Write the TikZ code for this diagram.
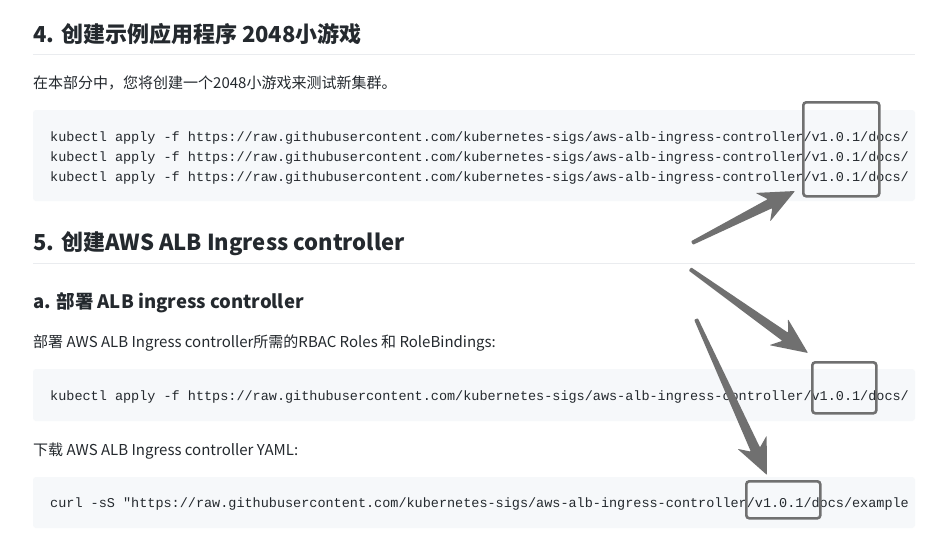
\documentclass[tikz,border=0pt]{standalone}
\usepackage{fontspec}
\setmainfont{Noto Sans CJK SC}
\setmonofont{Liberation Mono}
\usetikzlibrary{calc}
\definecolor{txt}{HTML}{24292E}
\definecolor{codebg}{HTML}{F6F8FA}
\definecolor{rulec}{HTML}{EAECEF}
\definecolor{ag}{HTML}{707070}
\tikzset{x=1pt,y=-1pt,
 h1/.style={anchor=base west,inner sep=0,text=txt,font=\fontsize{22}{22}\selectfont\bfseries},
 h3/.style={anchor=base west,inner sep=0,text=txt,font=\fontsize{18.5}{18.5}\selectfont\bfseries},
 para/.style={anchor=base west,inner sep=0,text=txt,font=\fontsize{15}{15}\selectfont},
 code/.style={anchor=base west,inner sep=0,text=txt,font=\fontsize{13.5}{13.5}\ttfamily},
 hibox/.style={draw=ag,line width=2.6pt,rounded corners=3pt}}
\newcommand\fatarrow[2]{%
 \coordinate (H) at ($(#2)!36pt!(#1)$);
 \coordinate (N) at ($(#2)!28pt!(#1)$);
 \fill[ag,rounded corners=0.8pt] ($(#1)!2pt!90:(#2)$) -- ($(N)!5pt!-90:(#1)$) -- ($(H)!16pt!-90:(#1)$) -- (#2) -- ($(H)!16pt!90:(#1)$) -- ($(N)!5pt!90:(#1)$) -- ($(#1)!2pt!-90:(#2)$) -- cycle;}
\begin{document}
\begin{tikzpicture}
\fill[white] (0,0) rectangle (940,539);
\useasboundingbox (0,0) rectangle (940,539);
\node[h1] (t4) at (33,42) {4. 创建示例应用程序 2048小游戏};
\draw[rulec,line width=1pt] (33,54) -- (915,54);
\node[para] (p1) at (33,88) {在本部分中，您将创建一个2048小游戏来测试新集群。};
\fill[codebg,rounded corners=3pt] (33,110) rectangle (915,201);
\foreach \y/\n in {141/c1,161/c2,181/c3}
 \node[code] (\n) at (50,\y) {kubectl apply -f https://raw.githubusercontent.com/kubernetes-sigs/aws-alb-ingress-controller/v1.0.1/docs/};
\node[h1] (t5) at (33,250) {5. 创建AWS ALB Ingress controller};
\draw[rulec,line width=1pt] (33,263) -- (915,263);
\node[h3] (ta) at (33,308) {a. 部署 ALB ingress controller};
\node[para] (p2) at (33,347) {部署 AWS ALB Ingress controller所需的RBAC Roles 和 RoleBindings:};
\fill[codebg,rounded corners=3pt] (33,369) rectangle (915,421);
\node[para] (p3) at (33,455) {下载 AWS ALB Ingress controller YAML:};
\fill[codebg,rounded corners=3pt] (33,477) rectangle (915,528);
\node[code] (c4) at (50,400) {kubectl apply -f https://raw.githubusercontent.com/kubernetes-sigs/aws-alb-ingress-controller/v1.0.1/docs/};
\node[code] (c5) at (50,507) {curl -sS "https://raw.githubusercontent.com/kubernetes-sigs/aws-alb-ingress-controller/v1.0.1/docs/example};
\node[hibox,minimum width=76pt,minimum height=94pt,anchor=north west] (b1) at (802,101) {};
\node[hibox,minimum width=64pt,minimum height=51pt,anchor=north west] (b2) at (811,361) {};
\node[hibox,minimum width=74pt,minimum height=37pt,anchor=north west] (b3) at (745,480) {};
\coordinate (a1s) at (692,243); \coordinate (a1e) at (795,191);
\coordinate (a2s) at (690,269); \coordinate (a2e) at (808,353);
\coordinate (a3s) at (696,319); \coordinate (a3e) at (767,475);
\fatarrow{a1s}{a1e}
\fatarrow{a2s}{a2e}
\fatarrow{a3s}{a3e}
\end{tikzpicture}
\end{document}
